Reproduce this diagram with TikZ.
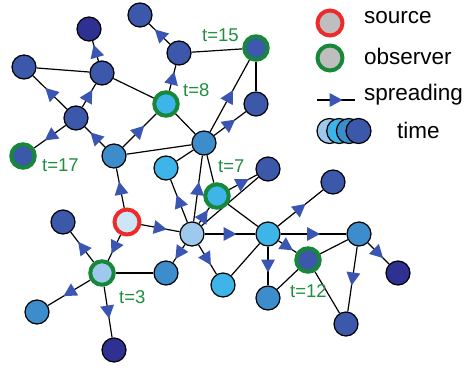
\documentclass[tikz,border=0pt]{standalone}
\usepackage{fontspec}
\setmainfont{Liberation Sans}
\usepackage{tikz}
\usetikzlibrary{decorations.markings, backgrounds}

\definecolor{cpale}{HTML}{9EC9EC}
\definecolor{cbright}{HTML}{3DB5E8}
\definecolor{cmid}{HTML}{3D8CCB}
\definecolor{cdark}{HTML}{3B58AA}
\definecolor{cnavy}{HTML}{2E3191}
\definecolor{csrc}{HTML}{CDE6F6}
\definecolor{cgray}{HTML}{BEBEBE}
\definecolor{obsgreen}{HTML}{17873A}
\definecolor{srcred}{HTML}{EE2B2B}
\definecolor{arrowblue}{HTML}{3A56B2}
\definecolor{labgreen}{HTML}{1F8E3F}

\tikzset{
	vert/.style={circle, draw=black, line width=1.2pt, minimum size=24pt, inner sep=0pt},
	obs/.style={circle, draw=obsgreen, line width=4pt, minimum size=23.5pt, inner sep=0pt},
	src/.style={circle, draw=srcred, line width=4pt, minimum size=25pt, inner sep=0pt},
	link/.style={draw=black, line width=1.2pt},
	spread/.style={link, postaction={decorate}, decoration={markings,
		mark=at position 0.5 with {\fill[arrowblue] (6.5pt,0pt) -- (-6.5pt,7pt) -- (-6.5pt,-7pt) -- cycle;}}},
	tlab/.style={text=labgreen, font=\fontsize{18.5}{22}\selectfont, anchor=base west, inner sep=0pt},
	leg/.style={font=\fontsize{22.5}{27}\selectfont, anchor=base west, inner sep=0pt}
}

\begin{document}
\begin{tikzpicture}[x=1pt, y=-1pt]
	\useasboundingbox (0,0) rectangle (473,367);
	
	%// nodes
	\node [vert, fill=cnavy] (a) at (89,29) {};
	\node [vert, fill=cdark] (b) at (140,15) {};
	\node [vert, fill=cdark] (c) at (179,53) {};
	\node [obs, fill=cdark] (o15) at (256,48) {};
	\node [vert, fill=cdark] (e) at (24,67) {};
	\node [vert, fill=cdark] (f) at (102,73) {};
	\node [obs, fill=cbright] (o8) at (166,104) {};
	\node [vert, fill=cdark] (h) at (256,104) {};
	\node [vert, fill=cdark] (i) at (76,118) {};
	\node [obs, fill=cdark] (o17) at (23,156) {};
	\node [vert, fill=cmid] (k) at (114,156) {};
	\node [vert, fill=cmid] (l) at (204,143) {};
	\node [vert, fill=cbright] (m) at (166,168) {};
	\node [vert, fill=cdark] (n) at (268,169) {};
	\node [src, fill=csrc] (s) at (127,222) {};
	\node [vert, fill=cdark] (o) at (63,222) {};
	\node [obs, fill=cpale] (o3) at (102,273) {};
	\node [vert, fill=cpale] (q) at (192,234) {};
	\node [vert, fill=cmid] (r) at (166,273) {};
	\node [vert, fill=cmid] (t) at (37,312) {};
	\node [vert, fill=cnavy] (u) at (114,350) {};
	\node [obs, fill=cbright] (o7) at (217,196) {};
	\node [vert, fill=cbright] (w) at (268,234) {};
	\node [vert, fill=cbright] (x) at (223,285) {};
	\node [vert, fill=cmid] (y) at (268,298) {};
	\node [vert, fill=cdark] (z) at (333,182) {};
	\node [vert, fill=cmid] (aa) at (359,234) {};
	\node [obs, fill=cdark] (o12) at (308,260) {};
	\node [vert, fill=cnavy] (cc) at (398,273) {};
	\node [vert, fill=cdark] (dd) at (346,324) {};
	
	%// edges
	\begin{scope}[on background layer]
	\foreach \ea/\eb in {c/o15, e/f, f/o8, o8/l, k/l, o15/h, m/l, l/o7, q/n, o7/w, o3/r, x/w, y/o12, o12/aa, o12/dd}
	\path [link] (\ea) -- (\eb);
	
	\foreach \ea/\eb in {f/a, c/b, o8/c, i/e, i/f, i/o17, k/i, k/o8, l/o15, l/h, q/l, q/m, q/o7, o7/n, s/k, s/q, s/o3, o3/o, o3/t, o3/u, q/r, q/x, q/w, w/z, w/aa, w/o12, w/y, aa/dd, aa/cc}
	\path [spread] (\ea) -- (\eb);
	\end{scope}
	
	%// times
	\node [tlab] (l15) at (202,41) {t=15};
	\node [tlab] (l8) at (183,96) {t=8};
	\node [tlab] (l17) at (42,171) {t=17};
	\node [tlab] (l7) at (218,172) {t=7};
	\node [tlab] (l3) at (119,303) {t=3};
	\node [tlab] (l12) at (290,297) {t=12};
	
	%// legend
	\node [src, fill=cgray] (ksrc) at (330,23) {};
	\node [obs, fill=cgray, minimum size=25pt] (kobs) at (330,58) {};
	\coordinate (ka) at (317,100);
	\coordinate (kb) at (355,100);
	\path [spread] (ka) -- (kb);
	\node [vert, fill=cpale, minimum size=25pt] (kt1) at (329.5,131) {};
	\node [vert, fill=cbright, minimum size=25pt] (kt2) at (339.2,131) {};
	\node [vert, fill=cmid, minimum size=25pt] (kt3) at (348.9,131) {};
	\node [vert, fill=cdark, minimum size=25pt] (kt4) at (358.5,131) {};
	
	\node [leg] at (364,23) {source};
	\node [leg] at (364,64) {observer};
	\node [leg] at (364,100) {spreading};
	\node [leg] at (397,138) {time};
\end{tikzpicture}
\end{document}
